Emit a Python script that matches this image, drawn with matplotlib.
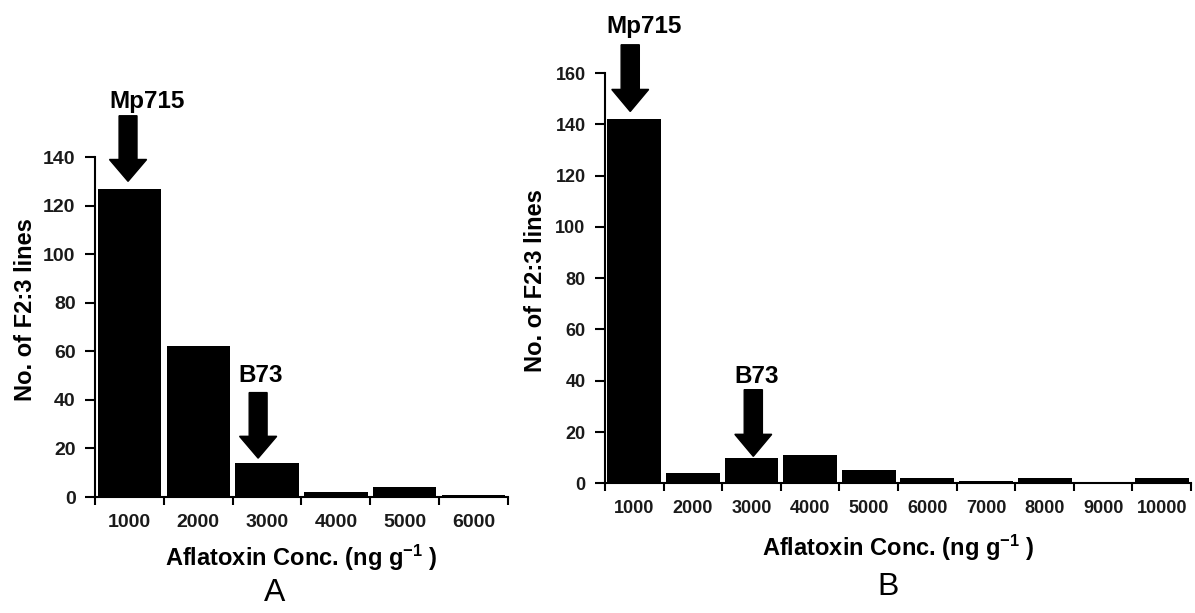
import numpy as np
import matplotlib
matplotlib.use('Agg')
import matplotlib.pyplot as plt

# fonts: Arial-like, bold
plt.rcParams['font.family'] = ['Liberation Sans', 'DejaVu Sans']
plt.rcParams['mathtext.fontset'] = 'custom'
plt.rcParams['mathtext.bf'] = 'Liberation Sans:bold'
plt.rcParams['mathtext.rm'] = 'Liberation Sans:bold'
plt.rcParams['mathtext.default'] = 'bf'

# panel A data
conc_a = ['1000', '2000', '3000', '4000', '5000', '6000']
lines_a = [127, 62, 14, 2, 4, 1]

# panel B data
conc_b = ['1000', '2000', '3000', '4000', '5000', '6000', '7000', '8000', '9000', '10000']
lines_b = [142, 4, 10, 11, 5, 2, 1, 2, 0, 2]

# parent lines marked with arrows: (label, bin index)
parents_a = [('Mp715', 0), ('B73', 2)]
parents_b = [('Mp715', 0), ('B73', 2)]

ylabel = 'No. of F2:3 lines'
xlabel = 'Aflatoxin Conc. (ng g$^{-1}$ )'

fig = plt.figure(figsize=(11.95, 6.13), dpi=100)
axA = fig.add_axes([0.0795, 0.1892, 0.3456, 0.5546])
axB = fig.add_axes([0.5063, 0.2116, 0.4904, 0.6693])


def draw_panel(ax, cats, vals, ymax, tick_fs, ylab_xy, xlab_xy):
    x = np.arange(len(cats))
    ax.bar(x, vals, width=0.92, color='black', edgecolor='none')
    ax.set_xlim(-0.5, len(cats) - 0.5)
    ax.set_ylim(0, ymax)
    ax.set_yticks(np.arange(0, ymax + 1, 20))
    ax.set_xticks(x)
    ax.set_xticklabels(cats)
    ax.set_xticks(np.arange(len(cats) + 1) - 0.5, minor=True)
    ax.tick_params(axis='x', which='major', length=0, pad=12, labelsize=tick_fs)
    ax.tick_params(axis='x', which='minor', length=6, width=1.5, direction='out')
    ax.tick_params(axis='y', length=7, width=1.5, direction='out', pad=7, labelsize=tick_fs)
    for lab in ax.get_xticklabels() + ax.get_yticklabels():
        lab.set_fontweight('bold')
        lab.set_color('#1a1a1a')
    for s in ['top', 'right']:
        ax.spines[s].set_visible(False)
    for s in ['left', 'bottom']:
        ax.spines[s].set_linewidth(1.5)
    ax.set_ylabel(ylabel, fontsize=17, fontweight='bold', va='center')
    ax.yaxis.set_label_coords(*ylab_xy)
    ax.set_xlabel(xlabel, fontsize=17, fontweight='bold', va='center')
    ax.xaxis.set_label_coords(*xlab_xy)


def draw_arrow(ax, label, idx, vals, dx, gap, length, shaft, head, head_len, lab_dx, lab_dy):
    xc = idx + dx
    tip = vals[idx] + gap
    ax.arrow(xc, tip + length, 0, -length, width=shaft, head_width=head,
             head_length=head_len, length_includes_head=True,
             color='black', clip_on=False)
    ax.text(xc + lab_dx, tip + length + lab_dy, label, fontsize=17.5,
            fontweight='bold', ha='center', va='center', clip_on=False)


draw_panel(axA, conc_a, lines_a, 140, 14, (-0.169, 0.55), (0.499, -0.179))
draw_panel(axB, conc_b, lines_b, 160, 13, (-0.119, 0.493), (0.5, -0.158))

# arrows in panel A
draw_arrow(axA, parents_a[0][0], parents_a[0][1], lines_a, -0.02, 3, 27,
           0.26, 0.54, 9, 0.28, 6)
draw_arrow(axA, parents_a[1][0], parents_a[1][1], lines_a, -0.13, 2, 27,
           0.26, 0.54, 9, 0.04, 7)
# arrows in panel B
draw_arrow(axB, parents_b[0][0], parents_b[0][1], lines_b, -0.07, 3, 26,
           0.31, 0.63, 8.6, 0.24, 7)
draw_arrow(axB, parents_b[1][0], parents_b[1][1], lines_b, 0.03, 0.5, 26,
           0.31, 0.63, 8.6, 0.06, 5)

fig.text(0.230, 0.032, 'A', fontsize=23, ha='center', va='center')
fig.text(0.743, 0.042, 'B', fontsize=23, ha='center', va='center')

plt.savefig('out.png', dpi=100)
